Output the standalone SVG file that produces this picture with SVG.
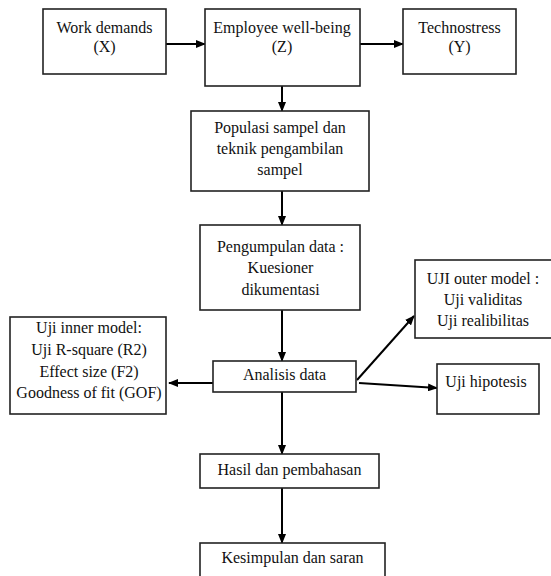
<svg xmlns="http://www.w3.org/2000/svg" width="551" height="576" viewBox="0 0 551 576">
<defs>
<marker id="ah" markerWidth="10" markerHeight="8" refX="9" refY="4" orient="auto" markerUnits="userSpaceOnUse">
<path d="M0,0 L10,4 L0,8 Z" fill="#000"/>
</marker>
</defs>
<style>
.box{fill:#fff;stroke:#222;stroke-width:1.6}
.t{font-family:"Liberation Serif","Times New Roman",serif;font-size:16px;fill:#111;text-anchor:middle}
.c{stroke:#000;stroke-width:2;fill:none;marker-end:url(#ah)}
</style>
<rect width="551" height="576" fill="#fff"/>
<g id="connectors">
<line class="c" x1="166" y1="44" x2="205" y2="44"/>
<line class="c" x1="360" y1="44" x2="403" y2="44"/>
<line class="c" x1="282" y1="86" x2="282" y2="111"/>
<line class="c" x1="282" y1="191" x2="282" y2="225"/>
<line class="c" x1="282" y1="310" x2="282" y2="361"/>
<line class="c" x1="213" y1="383" x2="169" y2="383"/>
<line class="c" x1="357" y1="380" x2="414" y2="316"/>
<line class="c" x1="359" y1="383" x2="437" y2="388"/>
<line class="c" x1="282" y1="392" x2="282" y2="454"/>
<line class="c" x1="282" y1="488" x2="282" y2="543"/>
</g>
<g id="work-demands">
<rect class="box" x="43" y="9" width="123" height="65"/>
<text class="t" x="104.5" y="33">Work demands</text>
<text class="t" x="104.5" y="52">(X)</text>
</g>
<g id="employee-wellbeing">
<rect class="box" x="205" y="9" width="155" height="77"/>
<text class="t" x="282" y="33">Employee well-being</text>
<text class="t" x="282" y="52">(Z)</text>
</g>
<g id="technostress">
<rect class="box" x="403" y="9" width="113" height="65"/>
<text class="t" x="459.5" y="33">Technostress</text>
<text class="t" x="459.5" y="52">(Y)</text>
</g>
<g id="populasi">
<rect class="box" x="191" y="111" width="178" height="80"/>
<text class="t" x="280" y="133">Populasi sampel dan</text>
<text class="t" x="280" y="154">teknik pengambilan</text>
<text class="t" x="280" y="175">sampel</text>
</g>
<g id="pengumpulan">
<rect class="box" x="200" y="225" width="160" height="85"/>
<text class="t" x="280.5" y="252">Pengumpulan data :</text>
<text class="t" x="280.5" y="273">Kuesioner</text>
<text class="t" x="280.5" y="295">dikumentasi</text>
</g>
<g id="analisis">
<rect class="box" x="213" y="361" width="143" height="31"/>
<text class="t" x="284.5" y="380">Analisis data</text>
</g>
<g id="inner-model">
<rect class="box" x="10" y="317" width="156" height="97"/>
<text class="t" x="89" y="333">Uji inner model:</text>
<text class="t" x="89" y="355">Uji R-square (R2)</text>
<text class="t" x="89" y="377">Effect size (F2)</text>
<text class="t" x="89" y="398">Goodness of fit (GOF)</text>
</g>
<g id="outer-model">
<rect class="box" x="415" y="260" width="138" height="78"/>
<text class="t" x="483" y="284">UJI outer model :</text>
<text class="t" x="483" y="305">Uji validitas</text>
<text class="t" x="483" y="326">Uji realibilitas</text>
</g>
<g id="hipotesis">
<rect class="box" x="437" y="364" width="102" height="50"/>
<text class="t" x="486" y="387">Uji hipotesis</text>
</g>
<g id="hasil">
<rect class="box" x="200" y="454" width="179" height="34"/>
<text class="t" x="289.5" y="475">Hasil dan pembahasan</text>
</g>
<g id="kesimpulan">
<rect class="box" x="200" y="543" width="185" height="40"/>
<text class="t" x="292.5" y="563">Kesimpulan dan saran</text>
</g>
</svg>
